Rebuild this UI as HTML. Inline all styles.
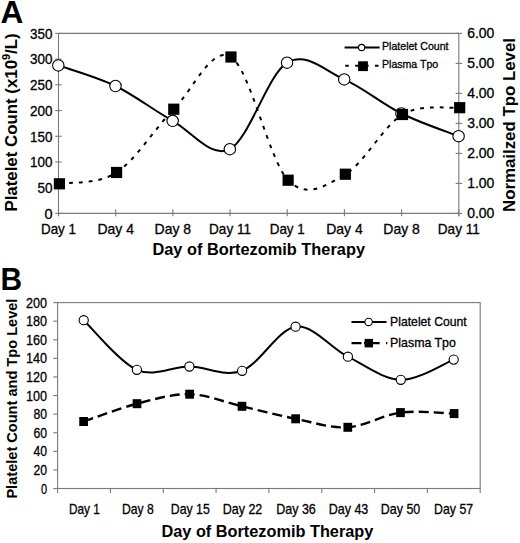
<!DOCTYPE html>
<html><head><meta charset="utf-8"><style>
html,body{margin:0;padding:0;background:#fff;width:520px;height:543px;overflow:hidden;}
svg{display:block;}
</style></head><body>
<svg width="520" height="543" viewBox="0 0 520 543">
<rect width="520" height="543" fill="#fff"/>
<g stroke="#7a7a7a" stroke-width="1.1" fill="none">
<path d="M58.5,33.4H458.8M58.5,33.4V216.20000000000002M458.8,33.4V216.20000000000002M58.5,213.4H458.8"/>
<path d="M55.2,213.40H61.7"/>
<path d="M55.2,187.69H61.7"/>
<path d="M55.2,161.97H61.7"/>
<path d="M55.2,136.26H61.7"/>
<path d="M55.2,110.54H61.7"/>
<path d="M55.2,84.83H61.7"/>
<path d="M55.2,59.11H61.7"/>
<path d="M55.2,33.40H61.7"/>
<path d="M455.6,213.40H462.1"/>
<path d="M455.6,183.40H462.1"/>
<path d="M455.6,153.40H462.1"/>
<path d="M455.6,123.40H462.1"/>
<path d="M455.6,93.40H462.1"/>
<path d="M455.6,63.40H462.1"/>
<path d="M455.6,33.40H462.1"/>
<path d="M58.50,209.20000000000002V216.20000000000002"/>
<path d="M115.69,209.20000000000002V216.20000000000002"/>
<path d="M172.87,209.20000000000002V216.20000000000002"/>
<path d="M230.06,209.20000000000002V216.20000000000002"/>
<path d="M287.24,209.20000000000002V216.20000000000002"/>
<path d="M344.43,209.20000000000002V216.20000000000002"/>
<path d="M401.61,209.20000000000002V216.20000000000002"/>
<path d="M458.80,209.20000000000002V216.20000000000002"/>
</g>
<g font-family="Liberation Sans, sans-serif" font-size="14.5" fill="#000" stroke="#000" stroke-width="0.3">
<text x="52.5" y="218.70" text-anchor="end" textLength="8.06" lengthAdjust="spacingAndGlyphs">0</text>
<text x="52.5" y="192.99" text-anchor="end" textLength="15.0" lengthAdjust="spacingAndGlyphs">50</text>
<text x="52.5" y="167.27" text-anchor="end" textLength="22.4" lengthAdjust="spacingAndGlyphs">100</text>
<text x="52.5" y="141.56" text-anchor="end" textLength="22.4" lengthAdjust="spacingAndGlyphs">150</text>
<text x="52.5" y="115.84" text-anchor="end" textLength="22.4" lengthAdjust="spacingAndGlyphs">200</text>
<text x="52.5" y="90.13" text-anchor="end" textLength="22.4" lengthAdjust="spacingAndGlyphs">250</text>
<text x="52.5" y="64.41" text-anchor="end" textLength="22.4" lengthAdjust="spacingAndGlyphs">300</text>
<text x="52.5" y="38.70" text-anchor="end" textLength="22.4" lengthAdjust="spacingAndGlyphs">350</text>
<text x="467.2" y="218.20" textLength="27.2" lengthAdjust="spacingAndGlyphs">0.00</text>
<text x="467.2" y="188.20" textLength="27.2" lengthAdjust="spacingAndGlyphs">1.00</text>
<text x="467.2" y="158.20" textLength="27.2" lengthAdjust="spacingAndGlyphs">2.00</text>
<text x="467.2" y="128.20" textLength="27.2" lengthAdjust="spacingAndGlyphs">3.00</text>
<text x="467.2" y="98.20" textLength="27.2" lengthAdjust="spacingAndGlyphs">4.00</text>
<text x="467.2" y="68.20" textLength="27.2" lengthAdjust="spacingAndGlyphs">5.00</text>
<text x="467.2" y="38.20" textLength="27.2" lengthAdjust="spacingAndGlyphs">6.00</text>
<text x="41.00" y="233.6" textLength="35.0" lengthAdjust="spacingAndGlyphs">Day 1</text>
<text x="97.44" y="233.6" textLength="36.5" lengthAdjust="spacingAndGlyphs">Day 4</text>
<text x="154.62" y="233.6" textLength="36.5" lengthAdjust="spacingAndGlyphs">Day 8</text>
<text x="209.06" y="233.6" textLength="42.0" lengthAdjust="spacingAndGlyphs">Day 11</text>
<text x="269.74" y="233.6" textLength="35.0" lengthAdjust="spacingAndGlyphs">Day 1</text>
<text x="326.18" y="233.6" textLength="36.5" lengthAdjust="spacingAndGlyphs">Day 4</text>
<text x="383.36" y="233.6" textLength="36.5" lengthAdjust="spacingAndGlyphs">Day 8</text>
<text x="437.80" y="233.6" textLength="42.0" lengthAdjust="spacingAndGlyphs">Day 11</text>
</g>
<text font-family="Liberation Sans, sans-serif" font-weight="bold" font-size="31.6" x="0.4" y="22.7">A</text>
<text font-family="Liberation Sans, sans-serif" font-weight="bold" font-size="16.2" x="152.4" y="254.8" textLength="212.6" lengthAdjust="spacingAndGlyphs">Day of Bortezomib Therapy</text>
<g transform="translate(16.8,211.6) rotate(-90) scale(1.054,1)"><text font-family="Liberation Sans, sans-serif" font-weight="bold" font-size="16" x="0" y="0">Platelet Count (x10<tspan font-size="10.3" dy="-7.1">9</tspan><tspan dy="7.1">/L)</tspan></text></g>
<text font-family="Liberation Sans, sans-serif" font-weight="bold" font-size="16" transform="translate(514.7,212) rotate(-90)" x="0" y="0" textLength="174" lengthAdjust="spacingAndGlyphs">Normailzed Tpo Level</text>
<path d="M58.30,65.40 C67.83,68.83 96.42,76.77 115.49,86.00 C134.55,95.23 153.61,110.27 172.67,120.80 C191.73,131.33 210.80,158.88 229.86,149.20 C248.92,139.52 267.98,74.33 287.04,62.70 C306.10,51.07 325.17,70.93 344.23,79.40 C363.29,87.87 382.35,104.03 401.41,113.50 C420.48,122.97 449.07,132.42 458.60,136.20" fill="none" stroke="#000" stroke-width="2"/>
<circle cx="58.30" cy="65.4" r="5.7" fill="#fff" stroke="#000" stroke-width="1.1"/>
<circle cx="115.49" cy="86" r="5.7" fill="#fff" stroke="#000" stroke-width="1.1"/>
<circle cx="172.67" cy="120.8" r="5.7" fill="#fff" stroke="#000" stroke-width="1.1"/>
<circle cx="229.86" cy="149.2" r="5.7" fill="#fff" stroke="#000" stroke-width="1.1"/>
<circle cx="287.04" cy="62.7" r="5.7" fill="#fff" stroke="#000" stroke-width="1.1"/>
<circle cx="344.23" cy="79.4" r="5.7" fill="#fff" stroke="#000" stroke-width="1.1"/>
<circle cx="401.41" cy="113.5" r="5.7" fill="#fff" stroke="#000" stroke-width="1.1"/>
<circle cx="458.60" cy="136.2" r="5.7" fill="#fff" stroke="#000" stroke-width="1.1"/>
<path d="M59.40,183.80 C68.93,181.92 97.52,184.93 116.59,172.50 C135.65,160.07 154.71,128.45 173.77,109.20 C192.83,89.95 211.90,45.17 230.96,57.00 C250.02,68.83 269.08,160.67 288.14,180.20 C307.20,199.73 326.27,185.15 345.33,174.20 C364.39,163.25 383.45,125.58 402.51,114.50 C421.58,103.42 450.17,108.83 459.70,107.70" fill="none" stroke="#000" stroke-width="2" stroke-dasharray="3.8,6"/>
<rect x="53.80" y="178.20" width="11.2" height="11.2" fill="#000"/>
<rect x="110.99" y="166.90" width="11.2" height="11.2" fill="#000"/>
<rect x="168.17" y="103.60" width="11.2" height="11.2" fill="#000"/>
<rect x="225.36" y="51.40" width="11.2" height="11.2" fill="#000"/>
<rect x="282.54" y="174.60" width="11.2" height="11.2" fill="#000"/>
<rect x="339.73" y="168.60" width="11.2" height="11.2" fill="#000"/>
<rect x="396.91" y="108.90" width="11.2" height="11.2" fill="#000"/>
<rect x="454.10" y="102.10" width="11.2" height="11.2" fill="#000"/>
<path d="M344.6,47.5H379.6" stroke="#000" stroke-width="2"/>
<circle cx="361.6" cy="47.5" r="3.1" fill="#fff" stroke="#000" stroke-width="1.1"/>
<path d="M345.3,65.8H379" stroke="#000" stroke-width="2" stroke-dasharray="3.5,6.4"/>
<rect x="358.1" y="61.3" width="9.8" height="9.8" fill="#000"/>
<text font-family="Liberation Sans, sans-serif" font-size="11" x="382" y="49.8" textLength="66.5" lengthAdjust="spacingAndGlyphs" fill="#000" stroke="#000" stroke-width="0.3">Platelet Count</text>
<text font-family="Liberation Sans, sans-serif" font-size="11" x="382" y="67.7" textLength="56.2" lengthAdjust="spacingAndGlyphs" fill="#000" stroke="#000" stroke-width="0.3">Plasma Tpo</text>
<g stroke="#7a7a7a" stroke-width="1.1" fill="none">
<rect x="57.6" y="302.6" width="422.60" height="185.90"/>
<path d="M53.2,488.50H57.6"/>
<path d="M53.2,469.91H57.6"/>
<path d="M53.2,451.32H57.6"/>
<path d="M53.2,432.73H57.6"/>
<path d="M53.2,414.14H57.6"/>
<path d="M53.2,395.55H57.6"/>
<path d="M53.2,376.96H57.6"/>
<path d="M53.2,358.37H57.6"/>
<path d="M53.2,339.78H57.6"/>
<path d="M53.2,321.19H57.6"/>
<path d="M53.2,302.60H57.6"/>
<path d="M57.60,488.5V493.0"/>
<path d="M110.42,488.5V493.0"/>
<path d="M163.25,488.5V493.0"/>
<path d="M216.07,488.5V493.0"/>
<path d="M268.90,488.5V493.0"/>
<path d="M321.73,488.5V493.0"/>
<path d="M374.55,488.5V493.0"/>
<path d="M427.38,488.5V493.0"/>
<path d="M480.20,488.5V493.0"/>
</g>
<g font-family="Liberation Sans, sans-serif" font-size="14.4" fill="#000" stroke="#000" stroke-width="0.3">
<text x="47.1" y="493.60" text-anchor="end" textLength="6.1" lengthAdjust="spacingAndGlyphs">0</text>
<text x="47.1" y="475.01" text-anchor="end" textLength="13.6" lengthAdjust="spacingAndGlyphs">20</text>
<text x="47.1" y="456.42" text-anchor="end" textLength="13.6" lengthAdjust="spacingAndGlyphs">40</text>
<text x="47.1" y="437.83" text-anchor="end" textLength="13.6" lengthAdjust="spacingAndGlyphs">60</text>
<text x="47.1" y="419.24" text-anchor="end" textLength="13.6" lengthAdjust="spacingAndGlyphs">80</text>
<text x="47.1" y="400.65" text-anchor="end" textLength="21.1" lengthAdjust="spacingAndGlyphs">100</text>
<text x="47.1" y="382.06" text-anchor="end" textLength="21.1" lengthAdjust="spacingAndGlyphs">120</text>
<text x="47.1" y="363.47" text-anchor="end" textLength="21.1" lengthAdjust="spacingAndGlyphs">140</text>
<text x="47.1" y="344.88" text-anchor="end" textLength="21.1" lengthAdjust="spacingAndGlyphs">160</text>
<text x="47.1" y="326.29" text-anchor="end" textLength="21.1" lengthAdjust="spacingAndGlyphs">180</text>
<text x="47.1" y="307.70" text-anchor="end" textLength="21.1" lengthAdjust="spacingAndGlyphs">200</text>
<text x="68.90" y="514.4" textLength="30.9" lengthAdjust="spacingAndGlyphs">Day 1</text>
<text x="121.90" y="514.4" textLength="31.8" lengthAdjust="spacingAndGlyphs">Day 8</text>
<text x="170.80" y="514.4" textLength="39" lengthAdjust="spacingAndGlyphs">Day 15</text>
<text x="222.70" y="514.4" textLength="39.6" lengthAdjust="spacingAndGlyphs">Day 22</text>
<text x="276.20" y="514.4" textLength="39.6" lengthAdjust="spacingAndGlyphs">Day 36</text>
<text x="328.70" y="514.4" textLength="39.6" lengthAdjust="spacingAndGlyphs">Day 43</text>
<text x="380.75" y="514.4" textLength="39.5" lengthAdjust="spacingAndGlyphs">Day 50</text>
<text x="434.10" y="514.4" textLength="39" lengthAdjust="spacingAndGlyphs">Day 57</text>
</g>
<text font-family="Liberation Sans, sans-serif" font-weight="bold" font-size="31.6" x="0.6" y="289.6" textLength="21.6" lengthAdjust="spacingAndGlyphs">B</text>
<text font-family="Liberation Sans, sans-serif" font-weight="bold" font-size="15.8" x="161.5" y="536.8" textLength="211.8" lengthAdjust="spacingAndGlyphs">Day of Bortezomib Therapy</text>
<text font-family="Liberation Sans, sans-serif" font-weight="bold" font-size="14" transform="translate(16.7,498.6) rotate(-90)" x="0" y="0" textLength="200" lengthAdjust="spacingAndGlyphs">Platelet Count and Tpo Level</text>
<path d="M83.70,320.20 C92.57,328.47 119.28,362.08 136.90,369.80 C154.52,377.52 171.87,366.33 189.40,366.50 C206.93,366.67 224.40,377.43 242.10,370.80 C259.80,364.17 277.97,329.05 295.60,326.70 C313.23,324.35 330.37,347.85 347.90,356.70 C365.43,365.55 383.17,379.32 400.80,379.80 C418.43,380.28 444.88,362.97 453.70,359.60" fill="none" stroke="#000" stroke-width="2"/>
<circle cx="83.7" cy="320.2" r="4.6" fill="#fff" stroke="#000" stroke-width="1.1"/>
<circle cx="136.9" cy="369.8" r="4.6" fill="#fff" stroke="#000" stroke-width="1.1"/>
<circle cx="189.4" cy="366.5" r="4.6" fill="#fff" stroke="#000" stroke-width="1.1"/>
<circle cx="242.1" cy="370.8" r="4.6" fill="#fff" stroke="#000" stroke-width="1.1"/>
<circle cx="295.6" cy="326.7" r="4.6" fill="#fff" stroke="#000" stroke-width="1.1"/>
<circle cx="347.9" cy="356.7" r="4.6" fill="#fff" stroke="#000" stroke-width="1.1"/>
<circle cx="400.8" cy="379.8" r="4.6" fill="#fff" stroke="#000" stroke-width="1.1"/>
<circle cx="453.7" cy="359.6" r="4.6" fill="#fff" stroke="#000" stroke-width="1.1"/>
<path d="M83.60,421.50 C92.50,418.53 119.33,408.25 137.00,403.70 C154.67,399.15 172.10,393.77 189.60,394.20 C207.10,394.63 224.33,402.20 242.00,406.30 C259.67,410.40 277.97,415.30 295.60,418.80 C313.23,422.30 330.32,428.33 347.80,427.30 C365.28,426.27 382.78,414.88 400.50,412.60 C418.22,410.32 445.17,413.43 454.10,413.60" fill="none" stroke="#000" stroke-width="2.4" stroke-dasharray="10,5"/>
<rect x="79.25" y="417.00" width="8.7" height="9" fill="#000"/>
<rect x="132.65" y="399.20" width="8.7" height="9" fill="#000"/>
<rect x="185.25" y="389.70" width="8.7" height="9" fill="#000"/>
<rect x="237.65" y="401.80" width="8.7" height="9" fill="#000"/>
<rect x="291.25" y="414.30" width="8.7" height="9" fill="#000"/>
<rect x="343.45" y="422.80" width="8.7" height="9" fill="#000"/>
<rect x="396.15" y="408.10" width="8.7" height="9" fill="#000"/>
<rect x="449.75" y="409.10" width="8.7" height="9" fill="#000"/>
<path d="M351.5,321.9H386.5" stroke="#000" stroke-width="2"/>
<circle cx="368.6" cy="321.9" r="3.7" fill="#fff" stroke="#000" stroke-width="1.1"/>
<path d="M351.5,343.2H361.5M364,343.2H379.6M386,343.2H387.3" stroke="#000" stroke-width="2.2"/>
<rect x="364.6" y="338.9" width="8.4" height="8.5" fill="#000"/>
<text font-family="Liberation Sans, sans-serif" font-size="12.6" x="390.1" y="326.2" textLength="76.6" lengthAdjust="spacingAndGlyphs" fill="#000" stroke="#000" stroke-width="0.3">Platelet Count</text>
<text font-family="Liberation Sans, sans-serif" font-size="12.6" x="390.1" y="346.6" textLength="65.7" lengthAdjust="spacingAndGlyphs" fill="#000" stroke="#000" stroke-width="0.3">Plasma Tpo</text>
</svg>
</body></html>
